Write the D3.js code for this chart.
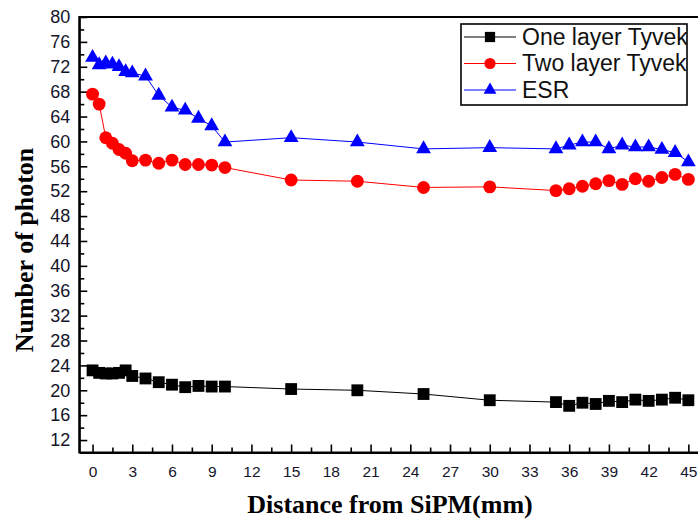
<!DOCTYPE html>
<html>
<head>
<meta charset="utf-8">
<script src="https://cdn.jsdelivr.net/npm/d3@7"></script>
<style>
  body { margin: 0; background: #fff; }
  svg { display: block; }
</style>
</head>
<body>
<svg id="chart" width="698" height="519"></svg>
<script>
// distance from SiPM (mm) and photon counts
var distance = [0, 0.5, 1, 1.5, 2, 2.5, 3, 4, 5, 6, 7, 8, 9, 10, 15, 20, 25, 30,
    35, 36, 37, 38, 39, 40, 41, 42, 43, 44, 45];
var oneLayer = [23.2, 22.8, 22.7, 22.7, 22.8, 23.2, 22.3, 21.9, 21.3, 20.9, 20.5, 20.7, 20.6, 20.6,
    20.2, 20.0, 19.4, 18.4, 18.1, 17.5, 18.0, 17.8, 18.3, 18.1, 18.5, 18.3, 18.5, 18.8, 18.4];
var twoLayer = [67.6, 66.0, 60.6, 59.7, 58.7, 58.1, 56.9, 57.0, 56.5, 57.0, 56.3, 56.3, 56.2, 55.8,
    53.8, 53.6, 52.6, 52.7, 52.1, 52.4, 52.8, 53.2, 53.7, 53.1, 54.0, 53.6, 54.2, 54.7, 53.9];
var esr = [73.5, 72.3, 72.6, 72.4, 72.0, 71.2, 71.0, 70.5, 67.4, 65.5, 65.0, 63.7, 62.5, 59.9,
    60.6, 59.9, 58.8, 59.0, 58.8, 59.4, 59.9, 59.9, 58.8, 59.4, 59.1, 59.1, 58.7, 58.2, 56.7];

var seriesNames = ["One layer Tyvek", "Two layer Tyvek", "ESR"];
var seriesValues = [oneLayer, twoLayer, esr];
var seriesColors = ["#000000", "#ff0000", "#0000ff"];
var seriesSymbols = [d3.symbolSquare, d3.symbolCircle, d3.symbolTriangle];
var symbolSizes = [140, 130, 95];

var xMajor = d3.range(0, 46, 3);
var xMinor = d3.range(1.5, 45, 3);
var yMajor = d3.range(12, 81, 4);
var yMinor = d3.range(14, 80, 4);

var svg = d3.select("#chart");

var x = d3.scaleLinear().domain([-1, 46]).range([79.3, 701.6]);
var y = d3.scaleLinear().domain([10, 80]).range([452.5, 17]);

// frame
svg.append("rect")
    .attr("x", x(-1)).attr("y", y(80))
    .attr("width", x(46) - x(-1)).attr("height", y(10) - y(80))
    .attr("fill", "none").attr("stroke", "#000").attr("stroke-width", 2);

// minor ticks
svg.append("g")
    .attr("transform", "translate(" + x(-1) + ",0)")
    .call(d3.axisLeft(y).tickValues(yMinor).tickSize(-5).tickSizeOuter(0).tickFormat(""))
    .call(function(g) { g.select(".domain").remove(); })
    .selectAll("line").attr("stroke-width", 1.6);
svg.append("g")
    .attr("transform", "translate(0," + y(10) + ")")
    .call(d3.axisBottom(x).tickValues(xMinor).tickSize(-5).tickSizeOuter(0).tickFormat(""))
    .call(function(g) { g.select(".domain").remove(); })
    .selectAll("line").attr("stroke-width", 1.6);

// major ticks + labels
var yAxis = svg.append("g")
    .attr("transform", "translate(" + x(-1) + ",0)")
    .call(d3.axisLeft(y).tickValues(yMajor).tickSize(-8).tickSizeOuter(0).tickPadding(9));
yAxis.select(".domain").attr("stroke-width", 2);
yAxis.selectAll("line").attr("stroke-width", 1.6);
yAxis.selectAll("text")
    .attr("font-family", "Liberation Sans, Arial, sans-serif")
    .attr("font-size", 18).attr("fill", "#15152a");

var xAxis = svg.append("g")
    .attr("transform", "translate(0," + y(10) + ")")
    .call(d3.axisBottom(x).tickValues(xMajor).tickSize(-8).tickSizeOuter(0).tickPadding(13));
xAxis.select(".domain").attr("stroke-width", 2);
xAxis.selectAll("line").attr("stroke-width", 1.6);
xAxis.selectAll("text")
    .attr("font-family", "Liberation Sans, Arial, sans-serif")
    .attr("font-size", 15.5).attr("fill", "#15152a");

// axis titles
svg.append("text")
    .attr("x", 390).attr("y", 513)
    .attr("text-anchor", "middle")
    .attr("font-family", "Liberation Serif, Times New Roman, serif")
    .attr("font-weight", "bold").attr("font-size", 26)
    .text("Distance from SiPM(mm)");

svg.append("text")
    .attr("transform", "translate(33,250) rotate(-90)")
    .attr("text-anchor", "middle")
    .attr("font-family", "Liberation Serif, Times New Roman, serif")
    .attr("font-weight", "bold").attr("font-size", 26)
    .text("Number of photon");

// series
var line = d3.line()
    .x(function(d) { return x(d[0]); })
    .y(function(d) { return y(d[1]); });

seriesValues.forEach(function(vals, i) {
    var pts = distance.map(function(d, j) { return [d, vals[j]]; });
    var g = svg.append("g");
    g.append("path")
        .attr("d", line(pts))
        .attr("fill", "none")
        .attr("stroke", seriesColors[i])
        .attr("stroke-width", 1);
    g.selectAll("path.pt")
        .data(pts)
        .enter().append("path")
        .attr("class", "pt")
        .attr("transform", function(d) { return "translate(" + x(d[0]) + "," + y(d[1]) + ")"; })
        .attr("d", d3.symbol().type(seriesSymbols[i]).size(symbolSizes[i]))
        .attr("fill", seriesColors[i]);
});

// legend
var legend = svg.append("g");
svg.append("clipPath").attr("id", "legclip")
    .append("rect").attr("x", 461).attr("y", 24).attr("width", 226).attr("height", 81);
legend.append("rect")
    .attr("x", 461).attr("y", 24).attr("width", 226).attr("height", 81)
    .attr("fill", "#fff").attr("stroke", "#000").attr("stroke-width", 1.6);

seriesNames.forEach(function(name, i) {
    var ly = 37 + i * 26.5;
    legend.append("line")
        .attr("x1", 464).attr("x2", 516).attr("y1", ly).attr("y2", ly)
        .attr("stroke", seriesColors[i]).attr("stroke-width", 1.2);
    legend.append("path")
        .attr("transform", "translate(490," + ly + ")")
        .attr("d", d3.symbol().type(seriesSymbols[i]).size(symbolSizes[i] * 0.75))
        .attr("fill", seriesColors[i]);
    legend.append("text")
        .attr("clip-path", "url(#legclip)")
        .attr("x", 522).attr("y", ly + 7.5)
        .attr("font-family", "Liberation Sans, Arial, sans-serif")
        .attr("font-size", 23).attr("fill", "#111")
        .text(name);
});
</script>
</body>
</html>
